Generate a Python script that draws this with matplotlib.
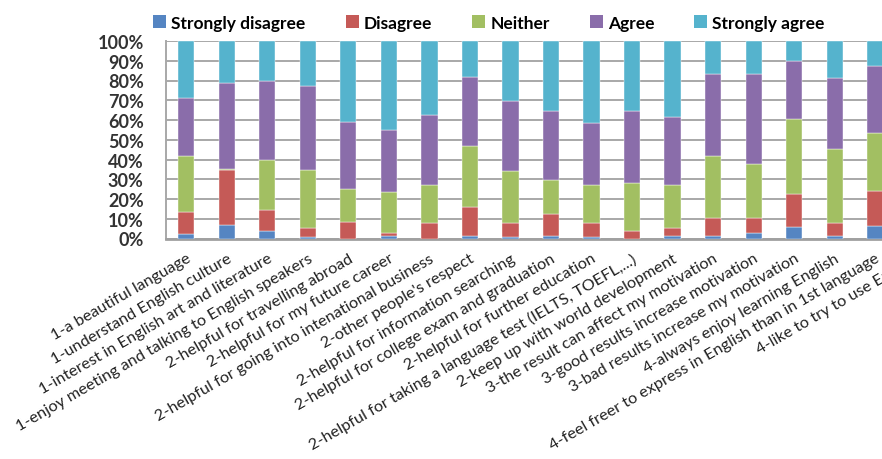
import matplotlib
matplotlib.use("Agg")
import matplotlib.pyplot as plt
from matplotlib.patches import Patch
import numpy as np

categories = [
    "1-a beautiful language",
    "1-understand English culture",
    "1-interest in English art and literature",
    "1-enjoy meeting and talking to English speakers",
    "2-helpful for travelling abroad",
    "2-helpful for my future career",
    "2-helpful for going into intenational business",
    "2-other people's respect",
    "2-helpful for information searching",
    "2-helpful for college exam and graduation",
    "2-helpful for further education",
    "2-helpful for taking a language test (IELTS, TOEFL,...)",
    "2-keep up with world development",
    "3-the result can affect my motivation",
    "3-good results increase motivation",
    "3-bad results increase my motivation",
    "4-always enjoy learning English",
    "4-feel freer to express in English than in 1st language",
    "4-like to try to use English",
]

strongly_disagree = [2.2, 7.1, 3.9, 0.7, 0.0, 1.5, 0.0, 1.5, 0.7, 1.5, 0.7, 0.0, 1.5, 1.5, 3.0, 5.6, 1.5, 6.2, 2.0]
disagree          = [11.3, 27.8, 10.6, 4.7, 8.4, 1.2, 7.8, 14.5, 7.1, 11.1, 7.1, 3.7, 3.9, 8.8, 7.3, 16.8, 6.3, 17.9, 8.0]
neither           = [28.5, 0.3, 25.1, 29.5, 16.6, 20.6, 19.5, 30.9, 26.3, 17.2, 19.5, 24.6, 21.9, 31.7, 27.6, 38.1, 37.4, 29.4, 30.0]
agree             = [29.2, 43.7, 40.0, 42.3, 34.0, 31.7, 35.1, 34.9, 35.5, 34.8, 31.0, 36.3, 34.1, 41.5, 45.6, 29.4, 36.1, 33.9, 40.0]
strongly_agree    = [28.8, 21.4, 20.4, 22.8, 41.0, 45.0, 37.6, 18.2, 30.4, 35.4, 41.7, 35.4, 38.6, 16.5, 16.5, 10.1, 18.7, 12.6, 20.0]

series_names = ["Strongly disagree", "Disagree", "Neither", "Agree", "Strongly agree"]
series = [strongly_disagree, disagree, neither, agree, strongly_agree]
colors = ["#5585C2", "#C55A57", "#A2BF62", "#8A6DAA", "#55B3CD"]

yticks = [0, 10, 20, 30, 40, 50, 60, 70, 80, 90, 100]
ytick_labels = [f"{v}%" for v in yticks]

W, H = 882, 460
fig = plt.figure(figsize=(W / 100, H / 100), dpi=100)
plt.rcParams['font.family'] = ['Lato', 'DejaVu Sans']

ax = fig.add_axes([166 / W, 1 - 239.5 / H, 770 / W, 197.5 / H])

x = np.arange(len(categories))
data = np.array(series, dtype=float)
totals = data.sum(axis=0)
pct = data / totals * 100
bottom = np.zeros(len(categories))
for name, vals, c in zip(series_names, pct, colors):
    ax.bar(x, vals, 0.40, bottom=bottom, color=c, label=name, zorder=3,
           edgecolor="white", linewidth=0.3)
    bottom += vals

ax.set_xlim(-0.5, len(categories) - 0.5)
ax.set_ylim(0, 100)
ax.set_yticks(yticks)
ax.set_yticklabels(ytick_labels, fontsize=13, color="#333333", fontweight="bold")
ax.yaxis.grid(True, color="#A8A8A8", linewidth=1.4, zorder=0)
ax.set_axisbelow(True)
ax.tick_params(axis="y", length=0, pad=16)
ax.tick_params(axis="x", length=0, pad=9)
ax.set_xticks(x)
ax.set_xticklabels(categories, rotation=30, ha="right", rotation_mode="anchor",
                   fontsize=11.7, color="#222222")

for s in ["top", "right"]:
    ax.spines[s].set_visible(False)
ax.spines["left"].set_color("#A8A8A8")
ax.spines["left"].set_linewidth(1.4)
ax.spines["bottom"].set_color("#A0A0A0")
ax.spines["bottom"].set_linewidth(2)

handles = [Patch(facecolor=c, edgecolor="none") for c in colors]
fig.legend(handles, series_names, loc="upper center", bbox_to_anchor=(489 / W, 1.0),
           ncol=5, frameon=False, handlelength=0.75, handleheight=0.75,
           handletextpad=0.3, columnspacing=2.3, prop={"weight": "bold", "size": 12.5})

fig.savefig("out.png", dpi=100)
